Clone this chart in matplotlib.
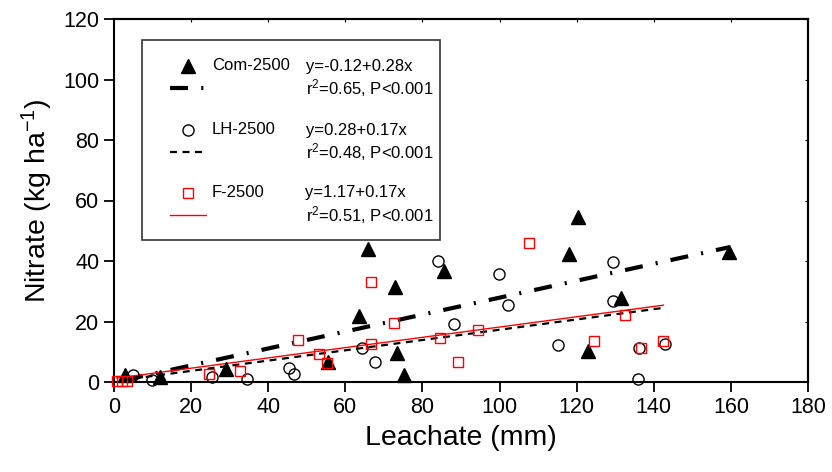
import matplotlib
matplotlib.use("Agg")
import matplotlib.pyplot as plt
from matplotlib.patches import Rectangle
import numpy as np

plt.rcParams['font.family'] = ['Liberation Sans', 'DejaVu Sans']
plt.rcParams['mathtext.fontset'] = 'custom'
plt.rcParams['mathtext.rm'] = 'Liberation Sans'
plt.rcParams['mathtext.it'] = 'Liberation Sans:italic'
plt.rcParams['lines.scale_dashes'] = False

# ---- data ----
com_x = [2.9, 11.9, 29.0, 55.4, 63.5, 65.9, 72.9, 73.4, 75.3, 85.5, 118.0, 120.3, 122.9, 131.6, 159.6]
com_y = [2.3, 1.8, 4.3, 6.6, 21.7, 43.9, 31.5, 9.7, 2.3, 36.7, 42.2, 54.4, 10.4, 27.8, 43.1]

lh_x = [5.0, 9.8, 25.3, 34.5, 45.3, 46.8, 64.4, 67.8, 84.1, 88.1, 99.9, 102.3, 115.1, 129.5, 129.4, 136.2, 135.8, 142.9]
lh_y = [2.3, 0.7, 1.5, 1.0, 4.5, 2.7, 11.2, 6.5, 40.0, 19.2, 35.6, 25.6, 12.1, 39.7, 26.7, 11.4, 0.9, 12.5]

f_x = [0.8, 2.0, 3.3, 24.7, 32.7, 47.7, 53.1, 55.3, 66.7, 66.7, 72.5, 84.5, 89.1, 94.3, 107.7, 124.5, 132.6, 136.7, 142.5]
f_y = [0.4, 0.4, 0.4, 2.6, 3.8, 14.0, 9.2, 6.2, 33.1, 12.7, 19.4, 14.7, 6.5, 17.3, 45.9, 13.4, 22.3, 11.4, 13.7]

series_names = ["Com-2500", "LH-2500", "F-2500"]
intercepts = [-0.12, 0.28, 1.17]
slopes = [0.28, 0.17, 0.17]
eq_texts = ["y=-0.12+0.28x", "y=0.28+0.17x", "y=1.17+0.17x"]
stat_texts = ["r$^2$=0.65, P<0.001", "r$^2$=0.48, P<0.001", "r$^2$=0.51, P<0.001"]

x_ticks = list(range(0, 181, 20))
y_ticks = list(range(0, 121, 20))

# ---- figure ----
fig = plt.figure(figsize=(8.32, 4.72), dpi=100)
L, R, T, B = 114, 808, 19, 382
W, H = 832, 472
ax = fig.add_axes([L / W, 1 - B / H, (R - L) / W, (B - T) / H])

ax.set_xlim(0, 180)
ax.set_ylim(0, 120)

com_style = dict(color='black', lw=3.0, dashes=(13, 9.5, 1.5, 9.5), solid_capstyle='butt', dash_capstyle='butt')
lh_style = dict(color='black', lw=1.6, dashes=(5, 4), dash_capstyle='butt')
f_style = dict(color='#ff0000', lw=1.0)
line_styles = [com_style, lh_style, f_style]

xs_all = [com_x, lh_x, f_x]
for xs, a, b, st in zip(xs_all, intercepts, slopes, line_styles):
    xx = np.array([min(xs), max(xs)])
    ax.plot(xx, a + b * xx, zorder=3, **st)

ax.plot(com_x, com_y, linestyle='none', marker='^', ms=9.5, color='black', clip_on=False, zorder=4)
ax.plot(lh_x, lh_y, linestyle='none', marker='o', ms=8, mfc='none', mec='black', mew=1.0, clip_on=False, zorder=4)
ax.plot(f_x, f_y, linestyle='none', marker='s', ms=7.5, mfc='none', mec='#ff0000', mew=1.0, clip_on=False, zorder=5)

ax.set_xticks(x_ticks)
ax.set_yticks(y_ticks)
ax.tick_params(axis='both', direction='out', length=7.5, width=1.3, labelsize=15.5, pad=3)
for s in ax.spines.values():
    s.set_linewidth(1.5)

sec_x = ax.secondary_xaxis('top')
sec_x.set_xticks(x_ticks)
sec_x.tick_params(direction='in', length=2.5, width=0.8, labeltop=False)
sec_x.spines['top'].set_linewidth(1.5)
sec_y = ax.secondary_yaxis('right')
sec_y.set_yticks(y_ticks)
sec_y.tick_params(direction='in', length=2.5, width=0.8, labelright=False)
sec_y.spines['right'].set_linewidth(1.5)

ax.set_xlabel("Leachate (mm)", fontsize=20.5, labelpad=5)
ax.set_ylabel("Nitrate (kg ha$^{-1}$)", fontsize=20.5, labelpad=6)

# ---- legend (manual) ----
def af(px, py):
    return ((px - L) / (R - L), (B - py) / (B - T))

x0, y0 = af(142, 240)
x1, y1 = af(440, 40)
ax.add_patch(Rectangle((x0, y0), x1 - x0, y1 - y0, transform=ax.transAxes,
                       fill=True, facecolor='white', edgecolor='#333333', lw=1.2, zorder=6))

marker_specs = [dict(marker='^', ms=9.5, color='black'),
                dict(marker='o', ms=8, mfc='none', mec='black', mew=1.0),
                dict(marker='s', ms=7.5, mfc='none', mec='#ff0000', mew=1.0)]
row_y = [66, 130, 193]
for i in range(3):
    mx, my = af(188, row_y[i])
    ax.plot([mx], [my], transform=ax.transAxes, linestyle='none', zorder=7, clip_on=False, **marker_specs[i])
    tx, ty = af(212, row_y[i])
    ax.text(tx, ty, series_names[i], transform=ax.transAxes, fontsize=12, va='center', ha='left', zorder=7)
    ex, ey = af(306 if i < 2 else 305, row_y[i])
    ax.text(ex, ey, eq_texts[i], transform=ax.transAxes, fontsize=12, va='center', ha='left', zorder=7)
    sx, sy = af(306, row_y[i] + 22)
    ax.text(sx, sy, stat_texts[i], transform=ax.transAxes, fontsize=12, va='center', ha='left', zorder=7)
    lx0, ly = af(170, row_y[i] + 22)
    lx1, _ = af(206, row_y[i] + 22)
    ax.plot([lx0, lx1], [ly, ly], transform=ax.transAxes, zorder=7, clip_on=False, **line_styles[i])

fig.savefig("out.png", dpi=100)
